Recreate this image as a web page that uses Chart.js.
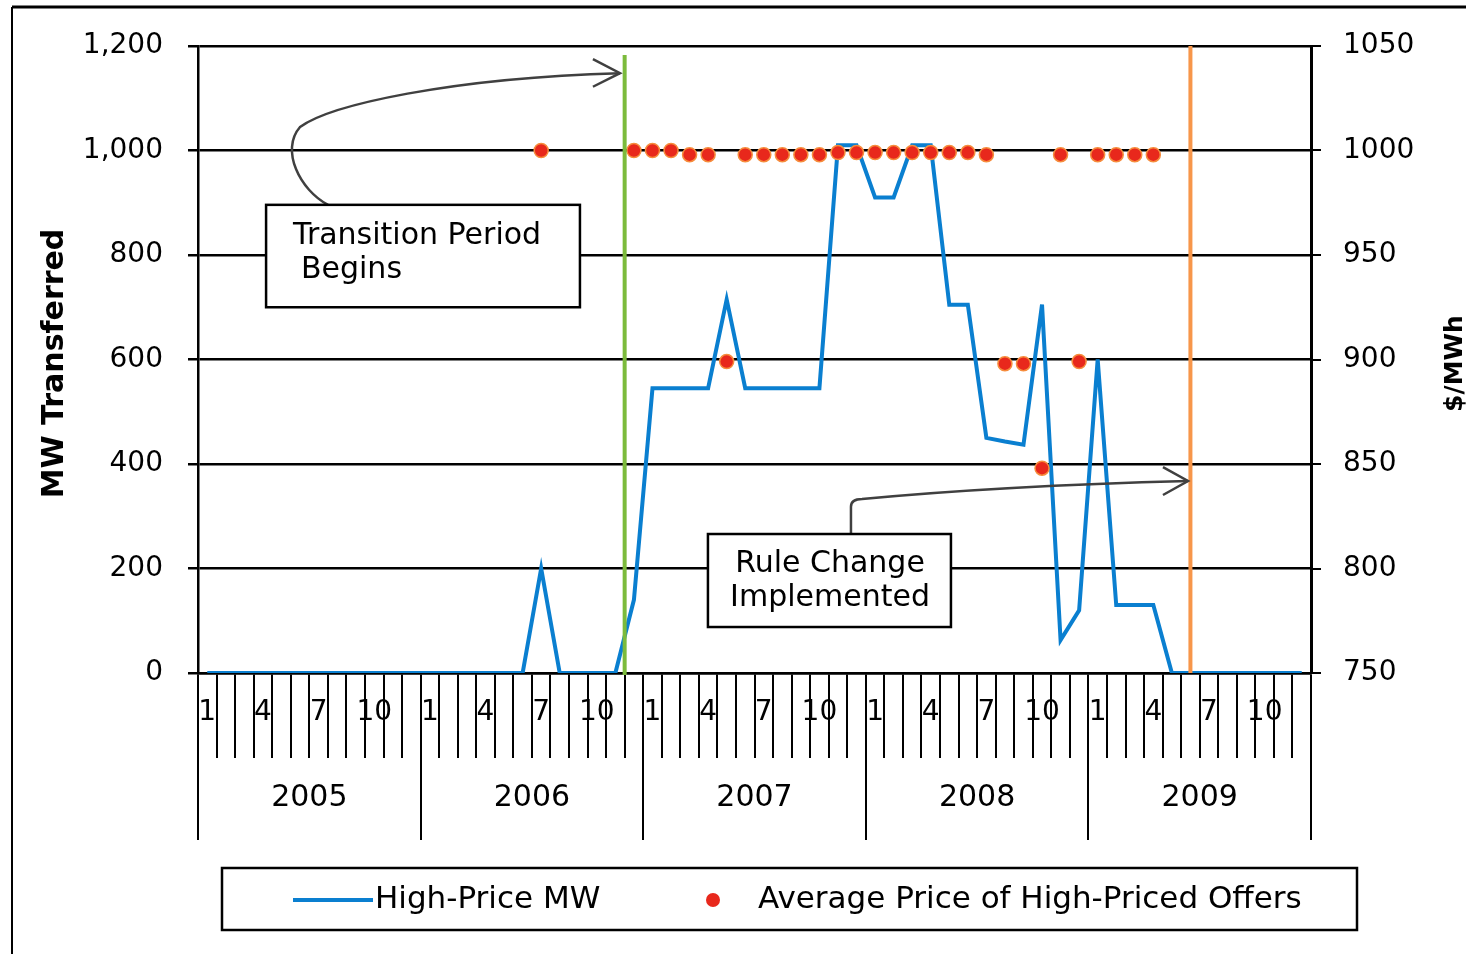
<!DOCTYPE html>
<html>
<head>
<meta charset="utf-8">
<title>High-Price MW Transferred</title>
<script src="https://cdn.jsdelivr.net/npm/chart.js@4.4.1/dist/chart.umd.min.js"></script>
<style>
  html, body { margin: 0; padding: 0; background: #fff; }
  #chart { display: block; }
</style>
</head>
<body>
<canvas id="chart" width="1466" height="954"></canvas>
<script>
/* ── data ─────────────────────────────────── */
const years       = ['2005', '2006', '2007', '2008', '2009'];
const monthNums   = [1, 2, 3, 4, 5, 6, 7, 8, 9, 10, 11, 12];
const shownMonths = [1, 4, 7, 10];

// MW transferred at high prices (left axis), Jan 2005 .. Dec 2009
const highPriceMW = [
  0, 0, 0, 0, 0, 0, 0, 0, 0, 0, 0, 0,                  // 2005
  0, 0, 0, 0, 0, 0, 200, 0, 0, 0, 0, 140,              // 2006
  545, 545, 545, 545, 715, 545, 545, 545, 545, 545, 1010, 1010, // 2007
  910, 910, 1010, 1010, 705, 705, 450, 443, 437, 705, 63, 120,  // 2008
  600, 130, 130, 130, 0, 0, 0, 0, 0, 0, 0, 0           // 2009
];

// average price of high-priced offers, $/MWh (right axis)
const avgPrice = [
  null, null, null, null, null, null, null, null, null, null, null, null,
  null, null, null, null, null, null, 1000, null, null, null, null, 1000,
  1000, 1000, 998, 998, 899, 998, 998, 998, 998, 998, 999, 999,
  999, 999, 999, 999, 999, 999, 998, 898, 898, 848, 998, 899,
  998, 998, 998, 998, null, null, null, null, null, null, null, null
];

const mwTicks    = { min: 0,   max: 1200, step: 200 };
const priceTicks = { min: 750, max: 1050, step: 50 };

// event markers, as month positions on the category axis
const transitionAt = 22.5;  // Nov/Dec 2006 boundary
const ruleChangeAt = 53;    // Jun 2009

const monthLabels = years.flatMap(y => monthNums.map(m => y + '-' + m));
const monthOf     = years.flatMap(() => monthNums);

const FONT = "'DejaVu Sans', 'Liberation Sans', sans-serif";
const BLUE = '#0a7fd0';
const RED  = '#e8281c';

/* ── helpers ──────────────────────────────── */
function zeroPad(scale) {
  scale.paddingTop = 0; scale.paddingBottom = 0;
  scale.paddingLeft = 0; scale.paddingRight = 0;
}

function arrowHead(ctx, tip, a, b) {
  ctx.beginPath();
  ctx.moveTo(a.x, a.y); ctx.lineTo(tip.x, tip.y); ctx.lineTo(b.x, b.y);
  ctx.stroke();
}

function textBox(ctx, x1, y1, x2, y2) {
  ctx.fillStyle = '#fff';
  ctx.fillRect(x1, y1, x2 - x1, y2 - y1);
  ctx.strokeStyle = '#000';
  ctx.lineWidth = 2.5;
  ctx.strokeRect(x1, y1, x2 - x1, y2 - y1);
}

/* ── decoration plugin: frame, markers, notes, titles, legend ── */
const decorPlugin = {
  id: 'decor',
  beforeDraw(chart) {
    const ctx = chart.ctx;
    ctx.save();
    ctx.fillStyle = '#fff';
    ctx.fillRect(0, 0, chart.width, chart.height);
    ctx.strokeStyle = '#000';
    ctx.lineWidth = 3;
    ctx.beginPath(); ctx.moveTo(12, 7); ctx.lineTo(chart.width, 7); ctx.stroke();
    ctx.lineWidth = 2;
    ctx.beginPath(); ctx.moveTo(12, 7); ctx.lineTo(12, chart.height); ctx.stroke();
    ctx.restore();
  },

  afterDatasetsDraw(chart) {
    const ctx = chart.ctx;
    const xs = chart.scales.x, ys = chart.scales.y;
    const area = chart.chartArea;
    const P = (i, v) => ({ x: xs.getPixelForValue(i), y: ys.getPixelForValue(v) });
    ctx.save();

    // vertical event lines
    const gx = xs.getPixelForValue(transitionAt);
    ctx.strokeStyle = '#7cbb3c'; ctx.lineWidth = 4;
    ctx.beginPath(); ctx.moveTo(gx, ys.getPixelForValue(1183)); ctx.lineTo(gx, area.bottom + 2); ctx.stroke();
    const ox = xs.getPixelForValue(ruleChangeAt);
    ctx.strokeStyle = '#f7964a'; ctx.lineWidth = 4;
    ctx.beginPath(); ctx.moveTo(ox, area.top); ctx.lineTo(ox, area.bottom); ctx.stroke();

    // arrows
    ctx.strokeStyle = '#404040'; ctx.lineWidth = 2.5;
    let s = P(6.51, 896), c1 = P(5.0, 924), c2 = P(3.92, 1001), m = P(5.0, 1045);
    let c3 = P(6.62, 1087), c4 = P(13.08, 1139), tip = P(22.25, 1148);
    ctx.beginPath();
    ctx.moveTo(s.x, s.y);
    ctx.bezierCurveTo(c1.x, c1.y, c2.x, c2.y, m.x, m.y);
    ctx.bezierCurveTo(c3.x, c3.y, c4.x, c4.y, tip.x, tip.y);
    ctx.stroke();
    arrowHead(ctx, tip, P(20.79, 1175), P(20.79, 1122));

    s = P(34.7, 266);
    const v1 = P(34.7, 318), cc = P(34.7, 333), e1 = P(35.3, 333);
    const cq = P(42.73, 358), tip2 = P(52.87, 367.5);
    ctx.beginPath();
    ctx.moveTo(s.x, s.y);
    ctx.lineTo(v1.x, v1.y);
    ctx.quadraticCurveTo(cc.x, cc.y, e1.x, e1.y);
    ctx.quadraticCurveTo(cq.x, cq.y, tip2.x, tip2.y);
    ctx.stroke();
    arrowHead(ctx, tip2, P(51.52, 394), P(51.52, 340.7));

    // note boxes
    ctx.font = '30px ' + FONT;
    ctx.textBaseline = 'middle';
    let a = P(3.17, 896), b = P(20.09, 700);
    textBox(ctx, a.x, a.y, b.x, b.y);
    ctx.fillStyle = '#000'; ctx.textAlign = 'left';
    let t = P(4.62, 836); ctx.fillText('Transition Period', t.x, t.y);
    t = P(5.05, 771);     ctx.fillText('Begins', t.x, t.y);

    a = P(26.99, 266); b = P(40.09, 88);
    textBox(ctx, a.x, a.y, b.x, b.y);
    ctx.fillStyle = '#000'; ctx.textAlign = 'center';
    t = P(33.57, 208.6); ctx.fillText('Rule Change', t.x, t.y);
    t = P(33.57, 143.5); ctx.fillText('Implemented', t.x, t.y);
    ctx.restore();
  },

  afterDraw(chart) {
    const ctx = chart.ctx;
    const area = chart.chartArea;
    const midY = (area.top + area.bottom) / 2 + 4;
    ctx.save();
    ctx.fillStyle = '#000';
    ctx.textAlign = 'center';
    ctx.textBaseline = 'middle';

    // axis titles
    ctx.font = 'bold 30px ' + FONT;
    ctx.save(); ctx.translate(55, midY); ctx.rotate(-Math.PI / 2);
    ctx.fillText('MW Transferred', 0, 0); ctx.restore();
    ctx.font = 'bold 25px ' + FONT;
    ctx.save(); ctx.translate(1455, midY); ctx.rotate(-Math.PI / 2);
    ctx.fillText('$/MWh', 0, 0); ctx.restore();

    // legend
    const ds = chart.data.datasets;
    ctx.strokeStyle = '#000'; ctx.lineWidth = 2.5;
    ctx.strokeRect(222, 868, 1135, 62);
    const ly = 900;
    ctx.strokeStyle = BLUE; ctx.lineWidth = 4;
    ctx.beginPath(); ctx.moveTo(293, ly); ctx.lineTo(373, ly); ctx.stroke();
    ctx.fillStyle = RED;
    ctx.beginPath(); ctx.arc(713, ly, 7, 0, Math.PI * 2); ctx.fill();
    ctx.fillStyle = '#000';
    ctx.font = '31px ' + FONT;
    ctx.textAlign = 'left';
    ctx.fillText(ds[0].label, 375, ly);
    ctx.fillText(ds[1].label, 758, ly);
    ctx.restore();
  }
};

/* ── chart ────────────────────────────────── */
const ctx = document.getElementById('chart').getContext('2d');

new Chart(ctx, {
  type: 'line',
  data: {
    labels: monthLabels,
    datasets: [
      {
        label: 'High-Price MW',
        data: highPriceMW,
        yAxisID: 'y',
        borderColor: BLUE,
        borderWidth: 4,
        tension: 0,
        pointRadius: 0,
        fill: false,
        order: 1
      },
      {
        label: 'Average Price of High-Priced Offers',
        data: avgPrice,
        yAxisID: 'y2',
        showLine: false,
        pointRadius: 7,
        pointBackgroundColor: RED,
        pointBorderColor: '#f68c3c',
        pointBorderWidth: 1.5,
        order: 0
      }
    ]
  },
  options: {
    responsive: false,
    animation: false,
    devicePixelRatio: 1,
    layout: { padding: { top: 46, left: 0, right: 0, bottom: 114 } },
    plugins: {
      legend: { display: false },
      tooltip: { enabled: false }
    },
    scales: {
      x: {
        type: 'category',
        position: 'bottom',
        weight: 0,
        offset: true,
        grid: {
          offset: true,
          drawOnChartArea: false,
          color: '#000',
          lineWidth: 2,
          tickLength: 85
        },
        border: { display: true, color: '#000', width: 2.5 },
        ticks: {
          autoSkip: false,
          maxRotation: 0,
          minRotation: 0,
          padding: -62,
          color: '#000',
          font: { family: FONT, size: 28 },
          callback: (v, i) => shownMonths.includes(monthOf[i]) ? String(monthOf[i]) : ''
        },
        afterFit: (scale) => { scale.height = 85; zeroPad(scale); }
      },
      x2: {
        type: 'category',
        position: 'bottom',
        weight: 1,
        labels: years,
        offset: true,
        grid: {
          offset: true,
          drawOnChartArea: false,
          color: '#000',
          lineWidth: 2,
          tickLength: 82
        },
        border: { display: false },
        ticks: {
          autoSkip: false,
          maxRotation: 0,
          minRotation: 0,
          padding: -60,
          color: '#000',
          font: { family: FONT, size: 30 }
        },
        afterFit: (scale) => { scale.height = 82; zeroPad(scale); }
      },
      y: {
        position: 'left',
        min: mwTicks.min,
        max: mwTicks.max,
        grid: { color: '#000', lineWidth: 2.5, tickLength: 10 },
        border: { display: true, color: '#000', width: 2.5 },
        ticks: {
          stepSize: mwTicks.step,
          padding: 25,
          color: '#000',
          font: { family: FONT, size: 28 }
        },
        afterFit: (scale) => { scale.width = 198; zeroPad(scale); }
      },
      y2: {
        position: 'right',
        min: priceTicks.min,
        max: priceTicks.max,
        grid: { drawOnChartArea: false, color: '#000', lineWidth: 2, tickLength: 10 },
        border: { display: true, color: '#000', width: 3 },
        ticks: {
          stepSize: priceTicks.step,
          padding: 22,
          color: '#000',
          font: { family: FONT, size: 28 },
          callback: (v) => String(v)
        },
        afterFit: (scale) => { scale.width = 155; zeroPad(scale); }
      }
    }
  },
  plugins: [decorPlugin]
});
</script>
</body>
</html>
